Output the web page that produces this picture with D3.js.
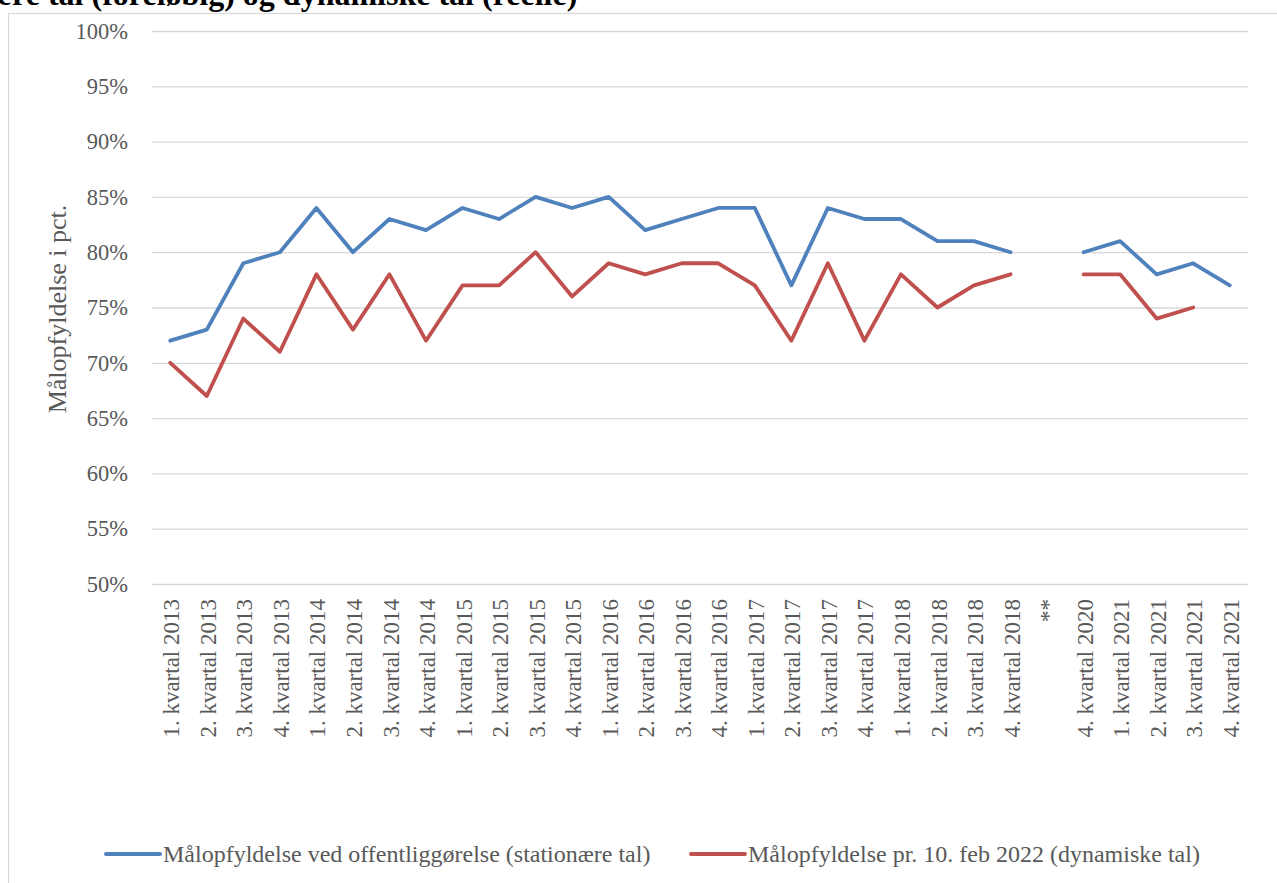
<!DOCTYPE html>
<html>
<head>
<meta charset="utf-8">
<script src="https://cdn.jsdelivr.net/npm/d3@7"></script>
<style>
  body { margin: 0; background: #fff; }
  svg { display: block; font-family: "Liberation Serif", "Times New Roman", serif; }
</style>
</head>
<body>
<div id="chart"></div>
<script>
// quarter labels, "**" marks the missing period
var categories = [
  "1. kvartal 2013", "2. kvartal 2013", "3. kvartal 2013", "4. kvartal 2013",
  "1. kvartal 2014", "2. kvartal 2014", "3. kvartal 2014", "4. kvartal 2014",
  "1. kvartal 2015", "2. kvartal 2015", "3. kvartal 2015", "4. kvartal 2015",
  "1. kvartal 2016", "2. kvartal 2016", "3. kvartal 2016", "4. kvartal 2016",
  "1. kvartal 2017", "2. kvartal 2017", "3. kvartal 2017", "4. kvartal 2017",
  "1. kvartal 2018", "2. kvartal 2018", "3. kvartal 2018", "4. kvartal 2018",
  "**",
  "4. kvartal 2020", "1. kvartal 2021", "2. kvartal 2021", "3. kvartal 2021", "4. kvartal 2021"
];

var stationaere = [72, 73, 79, 80, 84, 80, 83, 82, 84, 83, 85, 84, 85, 82, 83, 84,
                   84, 77, 84, 83, 83, 81, 81, 80, null, 80, 81, 78, 79, 77];

var dynamiske = [70, 67, 74, 71, 78, 73, 78, 72, 77, 77, 80, 76, 79, 78, 79, 79,
                 77, 72, 79, 72, 78, 75, 77, 78, null, 78, 78, 74, 75, null];

var yTicks = [50, 55, 60, 65, 70, 75, 80, 85, 90, 95, 100];

var seriesNames = [
  "Målopfyldelse ved offentliggørelse (stationære tal)",
  "Målopfyldelse pr. 10. feb 2022 (dynamiske tal)"
];

var title = "ære tal (foreløbig) og dynamiske tal (reelle)";

var W = 1277, H = 883;
var margin = {top: 31, left: 152, right: 29, bottom: 299};
var colors = ["#4f81bd", "#c0504d"];

var svg = d3.select("#chart").append("svg")
    .attr("width", W)
    .attr("height", H);

// chart area border (runs past the right and bottom edge)
svg.append("rect")
    .attr("x", 8.5).attr("y", 13.5)
    .attr("width", W + 10).attr("height", H + 10)
    .attr("fill", "none")
    .attr("stroke", "#d9d9d9")
    .attr("stroke-width", 1.2);

// title, clipped by the top/left edge like in the source
svg.append("text")
    .attr("x", -11)
    .attr("y", 5)
    .style("font-size", "32px")
    .style("font-weight", "bold")
    .attr("fill", "#000")
    .text(title);

var x = d3.scaleBand()
    .domain(categories)
    .range([margin.left, W - margin.right]);

var y = d3.scaleLinear()
    .domain([50, 100])
    .range([H - margin.bottom, margin.top]);

// gridlines + y labels
var yAxis = d3.axisLeft(y)
    .tickValues(yTicks)
    .tickSize(-(W - margin.right - margin.left))
    .tickPadding(24)
    .tickFormat(d => d + "%");

var gy = svg.append("g")
    .attr("transform", "translate(" + margin.left + ",0)")
    .call(yAxis);
gy.select(".domain").remove();
gy.selectAll(".tick line").attr("stroke", "#d9d9d9").attr("stroke-width", 1.3);
gy.selectAll(".tick text")
    .attr("fill", "#595959")
    .style("font-size", "22.5px")
    .style("font-family", "Liberation Serif, serif");

// x labels, rotated
var xAxis = d3.axisBottom(x).tickSize(0).tickPadding(0);
var gx = svg.append("g")
    .attr("transform", "translate(0," + (H - margin.bottom) + ")")
    .call(xAxis);
gx.select(".domain").remove();
gx.selectAll(".tick text")
    .attr("fill", "#595959")
    .style("font-size", "23px")
    .style("font-family", "Liberation Serif, serif")
    .attr("text-anchor", "end")
    .attr("dy", "0.35em")
    .attr("transform", "translate(1,15) rotate(-90)");

// y axis title
svg.append("text")
    .attr("transform", "translate(57,309) rotate(-90)")
    .attr("text-anchor", "middle")
    .attr("dy", "0.35em")
    .attr("fill", "#595959")
    .style("font-size", "26px")
    .text("Målopfyldelse i pct.");

var line = d3.line()
    .defined(d => d != null)
    .x((d, i) => x(categories[i]) + x.bandwidth() / 2)
    .y(d => y(d));

[stationaere, dynamiske].forEach(function (vals, k) {
  svg.append("path")
      .attr("fill", "none")
      .attr("stroke", colors[k])
      .attr("stroke-width", 3.8)
      .attr("stroke-linejoin", "round")
      .attr("stroke-linecap", "round")
      .attr("d", line(vals));
});

// legend
var legendPos = [106, 691];
var lg = svg.append("g");
seriesNames.forEach(function (name, k) {
  lg.append("line")
      .attr("x1", legendPos[k]).attr("x2", legendPos[k] + 54)
      .attr("y1", 854).attr("y2", 854)
      .attr("stroke", colors[k])
      .attr("stroke-width", 4)
      .attr("stroke-linecap", "round");
  lg.append("text")
      .attr("x", legendPos[k] + 57)
      .attr("y", 854)
      .attr("dy", "0.35em")
      .attr("fill", "#595959")
      .style("font-size", "24px")
      .text(name);
});
</script>
</body>
</html>
